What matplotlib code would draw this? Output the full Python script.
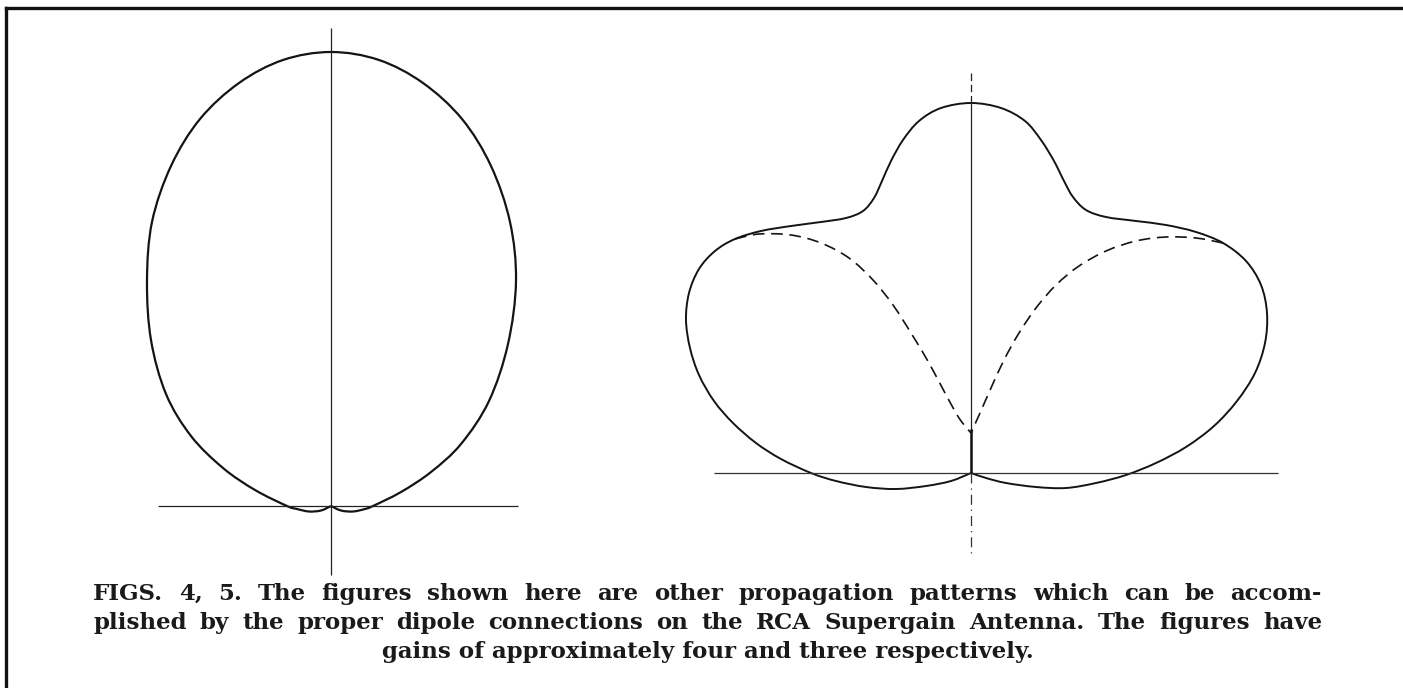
import numpy as np
import matplotlib
matplotlib.use("Agg")
import matplotlib.pyplot as plt
from matplotlib.path import Path
from matplotlib.patches import PathPatch

# ---------------- data ----------------
# Fig. 4 field pattern, (x, y) in arbitrary units, origin at the antenna, peak = 454
fig4_x = [0, 10, 22, 34, 42, 70, 100, 130, 158, 177, 185, 179, 160, 131, 92, 48, 0,
          -48, -92, -131, -160, -179, -184, -180, -165, -140, -108, -76, -44,
          -34, -22, -10, 0]
fig4_y = [0, -4.5, -5.5, -3, 0, 14, 34, 62, 105, 162, 225, 284, 340, 387, 423, 446, 454,
          446, 423, 387, 340, 284, 225, 166, 112, 70, 38, 16, 0,
          -3, -5.5, -4.5, 0]
fig4_peak = 454

# Fig. 5 resultant pattern (solid), arbitrary units, peak = 370
fig5_x = [0, -20, -45, -75, -105, -135, -160, -190, -215, -238, -257, -272, -281, -285, -282,
          -272, -256, -236, -210, -180, -150, -125, -108, -97, -89, -80, -68, -52, -30, 0,
          30, 54, 70, 83, 93, 102, 115, 135, 165, 195, 225, 252, 275, 290, 296, 294, 284,
          266, 243, 215, 185, 155, 125, 95, 65, 35, 15, 0]
fig5_y = [0, -8, -13, -16, -14, -8, 0, 14, 30, 50, 72, 98, 125, 153, 180,
          204, 222, 234, 242, 247, 251, 255, 262, 275, 292, 312, 333, 352, 365, 370,
          365, 352, 333, 312, 292, 276, 263, 256, 252, 248, 241, 230, 212, 188, 160, 130, 100,
          72, 47, 26, 10, -2, -10, -15, -14, -10, -5, 0]
fig5_peak = 370

# Fig. 5 component lobes (dashed)
lobe_left_x = [-236, -212, -180, -150, -122, -98, -78, -60, -42, -26, -12, 0]
lobe_left_y = [234, 239, 238, 230, 215, 193, 168, 140, 110, 80, 55, 40]
lobe_right_x = [252, 225, 195, 165, 135, 108, 85, 65, 48, 33, 20, 9, 0]
lobe_right_y = [230, 235, 236, 232, 222, 207, 188, 165, 140, 113, 85, 60, 40]

caption_lines = [
    "FIGS. 4, 5. The figures shown here are other propagation patterns which can be accom-",
    "plished by the proper dipole connections on the RCA Supergain Antenna. The figures have",
    "gains of approximately four and three respectively.",
]

# ---------------- drawing ----------------
W, H = 1403, 688
fig = plt.figure(figsize=(W / 100, H / 100), dpi=100)
fig.patch.set_facecolor("white")
INK = "#141414"


def smooth_path(x, y):
    p = np.column_stack([x, y]).astype(float)
    n = len(p)
    verts = [p[0]]
    codes = [Path.MOVETO]
    for i in range(n - 1):
        p0 = p[i - 1] if i > 0 else p[i]
        p1 = p[i]
        p2 = p[i + 1]
        p3 = p[i + 2] if i + 2 < n else p[i + 1]
        verts += [p1 + (p2 - p0) / 6.0, p2 - (p3 - p1) / 6.0, p2]
        codes += [Path.CURVE4] * 3
    return Path(np.array(verts), codes)


def make_axes(cx, cy, scale, box):
    x0, y0, x1, y1 = box
    ax = fig.add_axes([x0 / W, 1 - y1 / H, (x1 - x0) / W, (y1 - y0) / H])
    ax.set_xlim((x0 - cx) / scale, (x1 - cx) / scale)
    ax.set_ylim((cy - y1) / scale, (cy - y0) / scale)
    ax.axis("off")
    return ax


# ---- Fig. 4 ----
ax4 = make_axes(331, 506, 454, (60, 15, 640, 600))
ax4.plot([-0.381, 0.412], [0, 0], color="#222222", lw=0.9, solid_capstyle="butt")
ax4.plot([0, 0], [1.053, -0.152], color="#222222", lw=0.9, solid_capstyle="butt")
x4 = np.array(fig4_x) / fig4_peak
y4 = np.array(fig4_y) / fig4_peak
ax4.add_patch(PathPatch(smooth_path(x4, y4), fill=False, edgecolor=INK, lw=1.6))

# ---- Fig. 5 ----
ax5 = make_axes(971, 473, 370, (660, 40, 1340, 600))
ax5.plot([-0.695, 0.830], [0, 0], color="#333333", lw=0.9, solid_capstyle="butt")
ax5.plot([0, 0], [0, 1.0], color="#222222", lw=0.9, solid_capstyle="butt")
ax5.plot([0, 0], [1.0, 1.081], color="#222222", lw=0.9, linestyle=(0, (6, 3)))
ax5.plot([0, 0], [0, -0.216], color="#333333", lw=0.9, linestyle=(0, (8, 4, 1, 4)))
x5 = np.array(fig5_x) / fig5_peak
y5 = np.array(fig5_y) / fig5_peak
ax5.add_patch(PathPatch(smooth_path(x5, y5), fill=False, edgecolor=INK, lw=1.4))
for lx, ly in ((lobe_left_x, lobe_left_y), (lobe_right_x, lobe_right_y)):
    ax5.add_patch(PathPatch(smooth_path(np.array(lx) / fig5_peak, np.array(ly) / fig5_peak),
                            fill=False, edgecolor=INK, lw=1.2, linestyle=(0, (7, 4))))
ax5.plot([0, 0], [0.0, 0.12], color=INK, lw=1.8, solid_capstyle="butt")

# ---- frame (top rule and left rule) ----
fig.add_artist(plt.Line2D([6 / W, 1.0], [1 - 8 / H, 1 - 8 / H], color="#111111", lw=2.4,
                          transform=fig.transFigure))
fig.add_artist(plt.Line2D([6 / W, 6 / W], [1 - 8 / H, 0.0], color="#111111", lw=2.4,
                          transform=fig.transFigure))

# ---- caption (justified) ----
fs = 16.5
font = dict(family="DejaVu Serif", weight="bold", color="#1a1a1a")
left_px, right_px = 93, 1322
baselines = [600, 629, 658]
fig.canvas.draw()
renderer = fig.canvas.get_renderer()


def word_widths(words, size):
    ws = []
    for w in words:
        t = fig.text(0, 0, w, fontsize=size, **font)
        ws.append(t.get_window_extent(renderer).width)
        t.remove()
    return ws


space_probe = fig.text(0, 0, "a a", fontsize=fs, **font)
w_aa = space_probe.get_window_extent(renderer).width
space_probe.remove()
probe = fig.text(0, 0, "aa", fontsize=fs, **font)
space_w = w_aa - probe.get_window_extent(renderer).width
probe.remove()

# shrink if a justified line would not fit
for line in caption_lines[:2]:
    words = line.split()
    need = sum(word_widths(words, fs)) + 0.6 * space_w * (len(words) - 1)
    if need > right_px - left_px:
        fs *= (right_px - left_px) / need

for i, line in enumerate(caption_lines):
    words = line.split()
    ws = word_widths(words, fs)
    ybase = 1 - baselines[i] / H
    if i < 2:
        gap = (right_px - left_px - sum(ws)) / (len(words) - 1)
        x = left_px
        for w, wd in zip(words, ws):
            fig.text(x / W, ybase, w, fontsize=fs, va="baseline", ha="left", **font)
            x += wd + gap
    else:
        fig.text(((left_px + right_px) / 2) / W, ybase, line, fontsize=fs,
                 va="baseline", ha="center", **font)

fig.savefig("out.png", dpi=100, facecolor="white")
